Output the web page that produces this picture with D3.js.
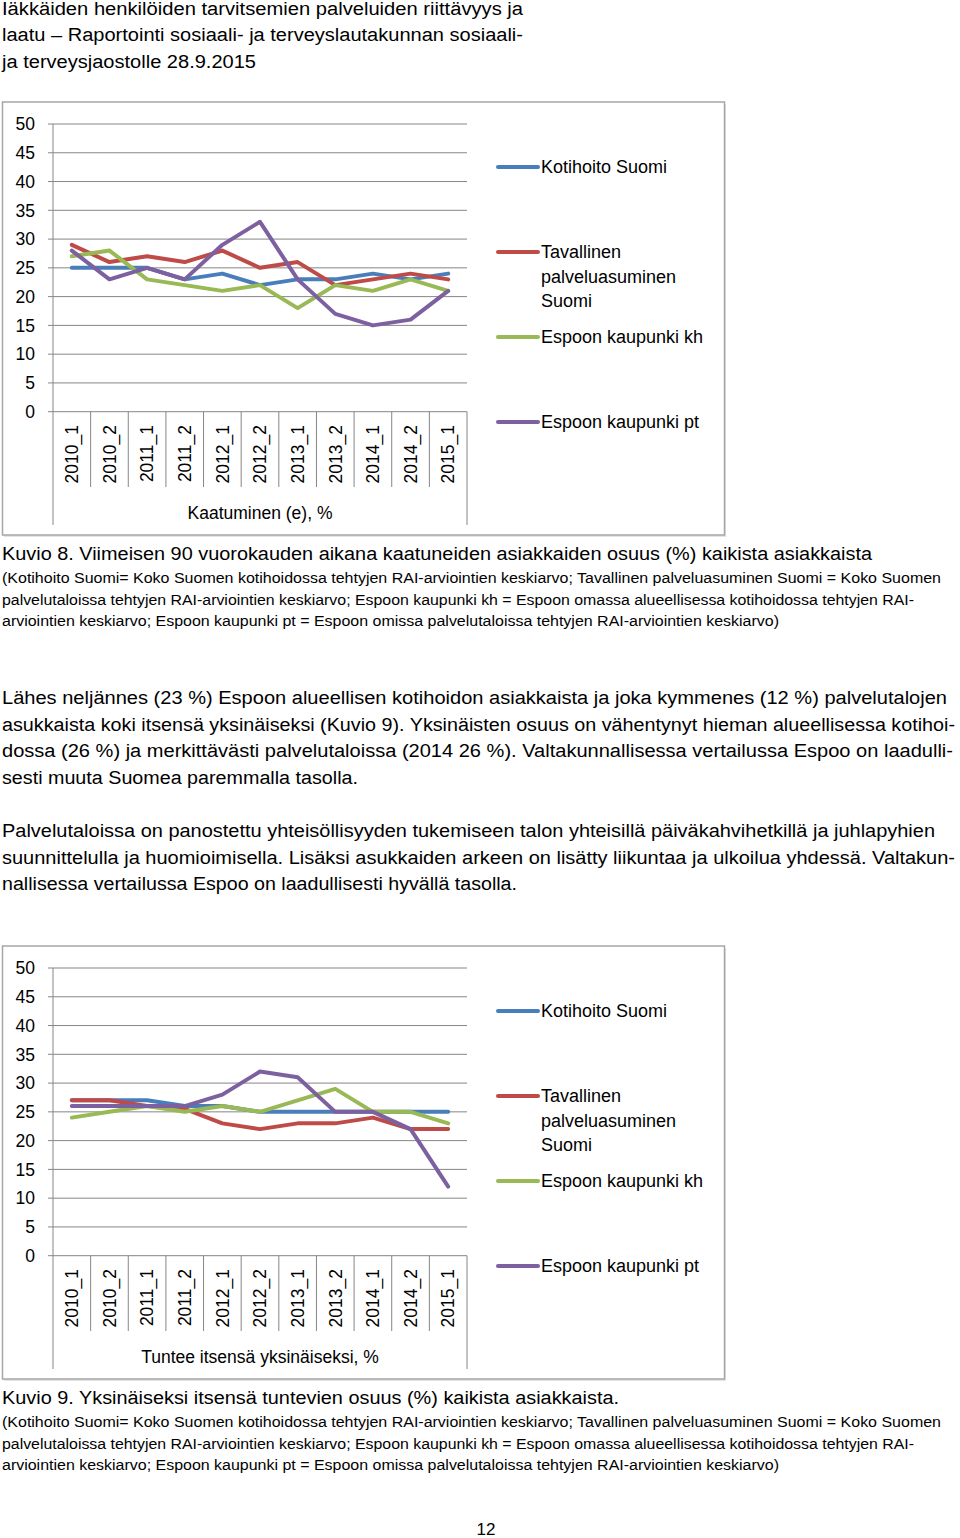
<!DOCTYPE html>
<html>
<head>
<meta charset="utf-8">
<script src="https://cdn.jsdelivr.net/npm/d3@7"></script>
<style>
  body { margin: 0; background: #fff; }
  svg { display: block; font-family: "Liberation Sans", Arial, sans-serif; }
</style>
</head>
<body>
<div id="page"></div>
<script>
// categories and series
var categories = ["2010_1", "2010_2", "2011_1", "2011_2", "2012_1", "2012_2", "2013_1", "2013_2", "2014_1", "2014_2", "2015_1"]
var seriesNames = ["Kotihoito Suomi", "Tavallinen palveluasuminen Suomi", "Espoon kaupunki kh", "Espoon kaupunki pt"]
var yTicks = [0, 5, 10, 15, 20, 25, 30, 35, 40, 45, 50]

// Kuvio 8: Kaatuminen (e), %
var fallKotihoito = [25, 25, 25, 23, 24, 22, 23, 23, 24, 23, 24]
var fallTavallinen = [29, 26, 27, 26, 28, 25, 26, 22, 23, 24, 23]
var fallEspooKh = [27, 28, 23, 22, 21, 22, 18, 22, 21, 23, 21]
var fallEspooPt = [28, 23, 25, 23, 29, 33, 23, 17, 15, 16, 21]

// Kuvio 9: Tuntee itsensä yksinäiseksi, %
var lonelyKotihoito = [27, 27, 27, 26, 26, 25, 25, 25, 25, 25, 25]
var lonelyTavallinen = [27, 27, 26, 25.5, 23, 22, 23, 23, 24, 22, 22]
var lonelyEspooKh = [24, 25, 26, 25, 26, 25, 27, 29, 25, 25, 23]
var lonelyEspooPt = [26, 26, 26, 26, 28, 32, 31, 25, 25, 22, 12]

var colors = ["#4a7ebb", "#be4b48", "#98b954", "#7d60a0"]

const W = 960, H = 1538

const svg = d3.select("#page").append("svg")
  .attr("width", W)
  .attr("height", H)

svg.append("rect").attr("width", W).attr("height", H).attr("fill", "#fff")

// plain text lines, stretched to the widths of the printed page
var addLine = function (x, y, size, text, width) {
  var t = svg.append("text")
    .attr("x", x)
    .attr("y", y)
    .attr("font-size", size)
    .attr("fill", "#000")
    .text(text)
  if (width) {
    t.attr("textLength", width).attr("lengthAdjust", "spacingAndGlyphs")
  }
  return t
}

// header
addLine(2, 15, 18, "Iäkkäiden henkilöiden tarvitsemien palveluiden riittävyys ja", 521)
addLine(2, 41, 18, "laatu – Raportointi sosiaali- ja terveyslautakunnan sosiaali-", 521)
addLine(2, 68, 18, "ja terveysjaostolle 28.9.2015", 254)

var drawChart = function (top, values, title) {
  const g = svg.append("g").attr("transform", `translate(0,${top})`)

  // faint shadow, then the frame
  g.append("rect")
    .attr("x", 4).attr("y", 104)
    .attr("width", 722).attr("height", 433)
    .attr("fill", "#e4e4e4")
  g.append("rect")
    .attr("x", 2.5).attr("y", 102)
    .attr("width", 722).attr("height", 433)
    .attr("fill", "#fff")
    .attr("stroke", "#a6a6a6")
    .attr("stroke-width", 1.5)

  const x = d3.scaleBand().domain(categories).range([53, 467])
  const y = d3.scaleLinear().domain([0, 50]).range([411.7, 124])

  // gridlines + ticks
  g.append("g")
    .selectAll("line")
    .data(yTicks)
    .join("line")
    .attr("x1", 48).attr("x2", 467)
    .attr("y1", d => y(d)).attr("y2", d => y(d))
    .attr("stroke", "#868686")
    .attr("stroke-width", 1)

  g.append("g")
    .selectAll("text")
    .data(yTicks)
    .join("text")
    .attr("x", 35)
    .attr("y", d => y(d))
    .attr("dy", "0.36em")
    .attr("text-anchor", "end")
    .attr("font-size", 17.5)
    .text(d => d)

  // axis lines
  g.append("line")
    .attr("x1", 53).attr("x2", 53)
    .attr("y1", y(50)).attr("y2", 525)
    .attr("stroke", "#868686")
  g.append("line")
    .attr("x1", 467).attr("x2", 467)
    .attr("y1", y(0)).attr("y2", 525)
    .attr("stroke", "#868686")

  // category separators
  g.append("g")
    .selectAll("line")
    .data(categories.slice(1))
    .join("line")
    .attr("x1", d => x(d)).attr("x2", d => x(d))
    .attr("y1", y(0)).attr("y2", 487)
    .attr("stroke", "#868686")

  g.append("g")
    .selectAll("text")
    .data(categories)
    .join("text")
    .attr("transform", d => `translate(${x(d) + x.bandwidth() / 2},425) rotate(-90)`)
    .attr("dy", "0.36em")
    .attr("text-anchor", "end")
    .attr("font-size", 17.5)
    .text(d => d)

  g.append("text")
    .attr("x", 260)
    .attr("y", 519)
    .attr("text-anchor", "middle")
    .attr("font-size", 17.5)
    .text(title)

  // series lines
  const line = d3.line()
    .x((d, i) => x(categories[i]) + x.bandwidth() / 2)
    .y(d => y(d))

  g.append("g")
    .selectAll("path")
    .data(values)
    .join("path")
    .attr("d", d => line(d))
    .attr("fill", "none")
    .attr("stroke", (d, i) => colors[i])
    .attr("stroke-width", 4)
    .attr("stroke-linejoin", "round")
    .attr("stroke-linecap", "round")

  // legend
  var legendY = [167, 252, 337, 422]
  var legendLines = [["Kotihoito Suomi"], ["Tavallinen", "palveluasuminen", "Suomi"], ["Espoon kaupunki kh"], ["Espoon kaupunki pt"]]

  const leg = g.append("g")
    .selectAll("g")
    .data(seriesNames)
    .join("g")
    .attr("transform", (d, i) => `translate(0,${legendY[i]})`)

  leg.append("line")
    .attr("x1", 498).attr("x2", 538)
    .attr("y1", 0).attr("y2", 0)
    .attr("stroke", (d, i) => colors[i])
    .attr("stroke-width", 4)
    .attr("stroke-linecap", "round")

  leg.append("text")
    .attr("font-size", 18)
    .each(function (d, i) {
      d3.select(this).selectAll("tspan")
        .data(legendLines[i])
        .join("tspan")
        .attr("x", 541)
        .attr("y", (t, j) => j * 24.5)
        .attr("dy", "0.36em")
        .text(t => t)
    })
}

drawChart(0, [fallKotihoito, fallTavallinen, fallEspooKh, fallEspooPt], "Kaatuminen (e), %")

// caption 8
addLine(2, 560, 18, "Kuvio 8. Viimeisen 90 vuorokauden aikana kaatuneiden asiakkaiden osuus (%) kaikista asiakkaista", 870)
addLine(2, 583, 14, "(Kotihoito Suomi= Koko Suomen kotihoidossa tehtyjen RAI-arviointien keskiarvo; Tavallinen palveluasuminen Suomi = Koko Suomen", 939)
addLine(2, 605, 14, "palvelutaloissa tehtyjen RAI-arviointien keskiarvo; Espoon kaupunki kh = Espoon omassa alueellisessa kotihoidossa tehtyjen RAI-", 912)
addLine(2, 626, 14, "arviointien keskiarvo; Espoon kaupunki pt = Espoon omissa palvelutaloissa tehtyjen RAI-arviointien keskiarvo)", 777)

// body text
addLine(2, 704, 18, "Lähes neljännes (23 %) Espoon alueellisen kotihoidon asiakkaista ja joka kymmenes (12 %) palvelutalojen", 945)
addLine(2, 731, 18, "asukkaista koki itsensä yksinäiseksi (Kuvio 9). Yksinäisten osuus on vähentynyt hieman alueellisessa kotihoi-", 953)
addLine(2, 757, 18, "dossa (26 %) ja merkittävästi palvelutaloissa (2014 26 %). Valtakunnallisessa vertailussa Espoo on laadulli-", 951)
addLine(2, 784, 18, "sesti muuta Suomea paremmalla tasolla.", 356)
addLine(2, 837, 18, "Palvelutaloissa on panostettu yhteisöllisyyden tukemiseen talon yhteisillä päiväkahvihetkillä ja juhlapyhien", 933)
addLine(2, 864, 18, "suunnittelulla ja huomioimisella. Lisäksi asukkaiden arkeen on lisätty liikuntaa ja ulkoilua yhdessä. Valtakun-", 953)
addLine(2, 890, 18, "nallisessa vertailussa Espoo on laadullisesti hyvällä tasolla.", 515)

drawChart(844, [lonelyKotihoito, lonelyTavallinen, lonelyEspooKh, lonelyEspooPt], "Tuntee itsensä yksinäiseksi, %")

// caption 9
addLine(2, 1404, 18, "Kuvio 9. Yksinäiseksi itsensä tuntevien osuus (%) kaikista asiakkaista.", 617)
addLine(2, 1427, 14, "(Kotihoito Suomi= Koko Suomen kotihoidossa tehtyjen RAI-arviointien keskiarvo; Tavallinen palveluasuminen Suomi = Koko Suomen", 939)
addLine(2, 1449, 14, "palvelutaloissa tehtyjen RAI-arviointien keskiarvo; Espoon kaupunki kh = Espoon omassa alueellisessa kotihoidossa tehtyjen RAI-", 912)
addLine(2, 1470, 14, "arviointien keskiarvo; Espoon kaupunki pt = Espoon omissa palvelutaloissa tehtyjen RAI-arviointien keskiarvo)", 777)

addLine(486, 1535, 17, "12").attr("text-anchor", "middle")
</script>
</body>
</html>
